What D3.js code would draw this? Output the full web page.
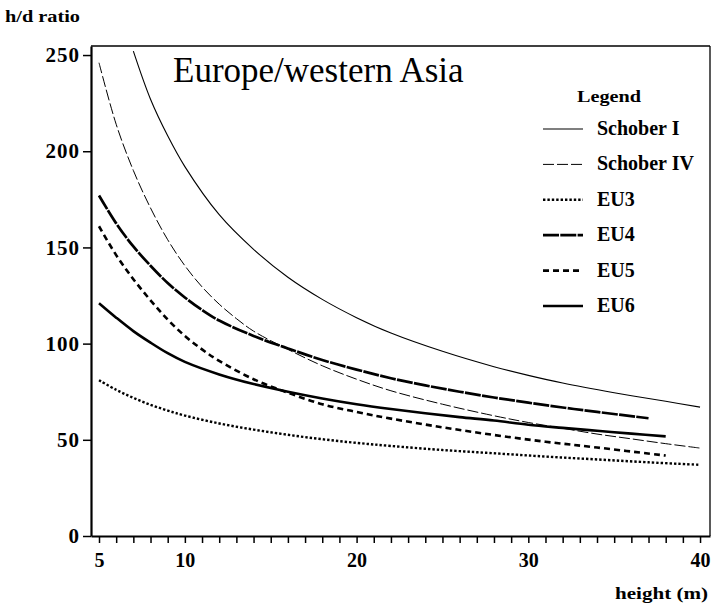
<!DOCTYPE html>
<html>
<head>
<meta charset="utf-8">
<script src="https://cdn.jsdelivr.net/npm/d3@7"></script>
<style>
  html, body { margin: 0; padding: 0; background: #fff; }
  svg { display: block; }
</style>
</head>
<body>
<svg id="chart" width="711" height="607"></svg>
<script>
// ---- Data: h/d ratio against tree height (m), Europe / western Asia ----
const seriesNames = ["Schober I", "Schober IV", "EU3", "EU4", "EU5", "EU6"];

const heightsSchoberI = [7, 8, 9, 10, 12, 14, 16, 18, 20, 22, 25, 28, 30, 32, 35, 38, 40];
const valuesSchoberI  = [252, 227, 208, 192, 167, 149, 134.5, 123, 113.5, 105.5, 96, 88, 83.5, 79.5, 74.5, 70, 67];

const heightsSchoberIV = [5, 6, 7, 8, 9, 10, 11, 12, 13, 14, 16, 18, 20, 22, 25, 28, 30, 32, 34, 36, 38, 40];
const valuesSchoberIV  = [246, 214, 190, 170.5, 154, 140.5, 129.5, 120.5, 113, 106.5, 97, 88.5, 81.5, 75.5, 68.5, 62.5, 59, 56, 53, 50.5, 48, 45.7];

const heightsEU3 = [5, 6, 7, 8, 9, 10, 12, 14, 16, 18, 20, 22, 25, 28, 31, 34, 37, 40];
const valuesEU3  = [81, 76, 71.8, 68.2, 65.2, 62.6, 58.5, 55.3, 52.6, 50.3, 48.4, 46.8, 44.7, 43, 41.3, 39.8, 38.3, 37];

const heightsEU4 = [5, 6, 7, 8, 9, 10, 11, 12, 14, 16, 18, 20, 22, 24, 26, 28, 30, 32, 34, 37];
const valuesEU4  = [177, 162.5, 150.5, 140.5, 131.5, 124, 117.5, 112, 104, 97.5, 91.5, 86.5, 82, 78.3, 75, 72, 69.3, 66.8, 64.5, 61.2];

const heightsEU5 = [5, 6, 7, 8, 9, 10, 11, 12, 14, 16, 18, 20, 22, 25, 28, 31, 34, 38];
const valuesEU5  = [161, 146, 133.5, 122.5, 112.5, 104, 97, 91, 81.5, 74.5, 68.5, 64.5, 61, 56.5, 52.5, 49, 46, 41.8];

const heightsEU6 = [5, 6, 7, 8, 9, 10, 12, 14, 16, 18, 20, 22, 24, 26, 28, 30, 32, 34, 36, 38];
const valuesEU6  = [121, 113.5, 106.5, 100.5, 95, 90.5, 84, 79, 75, 71.5, 68.5, 66, 63.8, 61.8, 60, 57.8, 56.2, 54.7, 53.2, 51.8];

const xTickLabels = [5, 10, 20, 30, 40];
const yTickLabels = [0, 50, 100, 150, 200, 250];

// ---- Layout ----
const SERIF = '"Liberation Serif", "Times New Roman", Times, serif';
const plot = { left: 91, right: 710, top: 46, bottom: 536 };

const x = d3.scaleLinear().domain([4.534, 40.58]).range([plot.left, plot.right]);
const y = d3.scaleLinear().domain([0, 254.7]).range([plot.bottom, plot.top]);

// line styles per series
const styles = {
  "Schober I":  { width: 1.1, dash: null },
  "Schober IV": { width: 1.0, dash: "11,3" },
  "EU3":        { width: 2.4, dash: "2.4,2" },
  "EU4":        { width: 2.7, dash: "16,1.3" },
  "EU5":        { width: 2.6, dash: "6,4" },
  "EU6":        { width: 2.6, dash: null }
};

const seriesData = [
  { name: "Schober I",  h: heightsSchoberI,  v: valuesSchoberI },
  { name: "Schober IV", h: heightsSchoberIV, v: valuesSchoberIV },
  { name: "EU3",        h: heightsEU3,       v: valuesEU3 },
  { name: "EU4",        h: heightsEU4,       v: valuesEU4 },
  { name: "EU5",        h: heightsEU5,       v: valuesEU5 },
  { name: "EU6",        h: heightsEU6,       v: valuesEU6 }
];

const svg = d3.select("#chart");

svg.append("defs").append("clipPath").attr("id", "plotClip")
  .append("rect")
  .attr("x", plot.left).attr("y", plot.top)
  .attr("width", plot.right - plot.left).attr("height", plot.bottom - plot.top);

// ---- Curves ----
const line = d3.line()
  .x(d => x(d[0]))
  .y(d => y(d[1]))
  .curve(d3.curveCatmullRom.alpha(0.5));

const curves = svg.append("g").attr("clip-path", "url(#plotClip)");
seriesData.forEach(s => {
  const pts = s.h.map((h, i) => [h, s.v[i]]);
  const st = styles[s.name];
  curves.append("path")
    .attr("d", line(pts))
    .attr("fill", "none")
    .attr("stroke", "#000")
    .attr("stroke-width", st.width)
    .attr("stroke-dasharray", st.dash)
    .attr("stroke-linejoin", "round");
});

// ---- Frame (top and right) ----
svg.append("line").attr("x1", plot.left).attr("x2", plot.right)
  .attr("y1", plot.top).attr("y2", plot.top)
  .attr("stroke", "#000").attr("stroke-width", 1.3);
svg.append("line").attr("x1", plot.right).attr("x2", plot.right)
  .attr("y1", plot.top).attr("y2", plot.bottom)
  .attr("stroke", "#000").attr("stroke-width", 1.3);

// ---- Axes ----
const xMinor = d3.range(5, 41);
const xAxis = d3.axisBottom(x)
  .tickValues(xMinor)
  .tickSize(7)
  .tickSizeOuter(0)
  .tickPadding(5)
  .tickFormat(d => xTickLabels.includes(d) ? d : "");
const gx = svg.append("g").attr("transform", `translate(0,${plot.bottom})`).call(xAxis);
gx.attr("font-family", null).attr("font-size", null);
gx.select(".domain").attr("stroke", "#000").attr("stroke-width", 2.2);
gx.selectAll(".tick line").attr("stroke", "#000").attr("stroke-width", 1.5);
gx.selectAll(".tick text")
  .style("font-family", SERIF)
  .style("font-size", "20px").style("font-weight", "bold")
  .attr("fill", "#000")
  .attr("dy", "0.95em");

const yAxis = d3.axisLeft(y)
  .tickValues(yTickLabels)
  .tickSize(8)
  .tickSizeOuter(0)
  .tickPadding(3);
const gy = svg.append("g").attr("transform", `translate(${plot.left},0)`).call(yAxis);
gy.attr("font-family", null).attr("font-size", null);
gy.select(".domain").attr("stroke", "#000").attr("stroke-width", 2.2);
gy.selectAll(".tick line").attr("stroke", "#000").attr("stroke-width", 1.5);
gy.selectAll(".tick text")
  .style("font-family", SERIF)
  .style("font-size", "21px").style("font-weight", "bold")
  .style("letter-spacing", "1px")
  .attr("fill", "#000");

// ---- Axis titles ----
svg.append("text")
  .style("font-family", SERIF)
  .attr("x", 5).attr("y", 22)
  .style("font-size", "16px").style("font-weight", "bold")
  .attr("textLength", 75).attr("lengthAdjust", "spacingAndGlyphs")
  .text("h/d ratio");

svg.append("text")
  .style("font-family", SERIF)
  .attr("x", 708).attr("y", 599)
  .attr("text-anchor", "end")
  .style("font-size", "17px").style("font-weight", "bold")
  .attr("textLength", 93).attr("lengthAdjust", "spacingAndGlyphs")
  .text("height (m)");

// ---- Title ----
svg.append("text")
  .style("font-family", SERIF)
  .attr("x", 173).attr("y", 82)
  .style("font-size", "35px")
  .text("Europe/western Asia");

// ---- Legend ----
svg.append("text")
  .style("font-family", SERIF)
  .attr("x", 577).attr("y", 102)
  .style("font-size", "16px").style("font-weight", "bold")
  .attr("textLength", 64).attr("lengthAdjust", "spacingAndGlyphs")
  .text("Legend");

const legendRowY = d3.scalePoint().domain(seriesNames).range([129, 306]);
const legend = svg.append("g");
seriesNames.forEach(name => {
  const st = styles[name];
  const yy = legendRowY(name);
  legend.append("line")
    .attr("x1", 543).attr("x2", 583)
    .attr("y1", yy).attr("y2", yy)
    .attr("stroke", "#000")
    .attr("stroke-width", st.width)
    .attr("stroke-dasharray", st.dash);
  legend.append("text")
    .style("font-family", SERIF)
    .attr("x", 597).attr("y", yy + 6)
    .style("font-size", "20px").style("font-weight", "bold")
    .text(name);
});
</script>
</body>
</html>
